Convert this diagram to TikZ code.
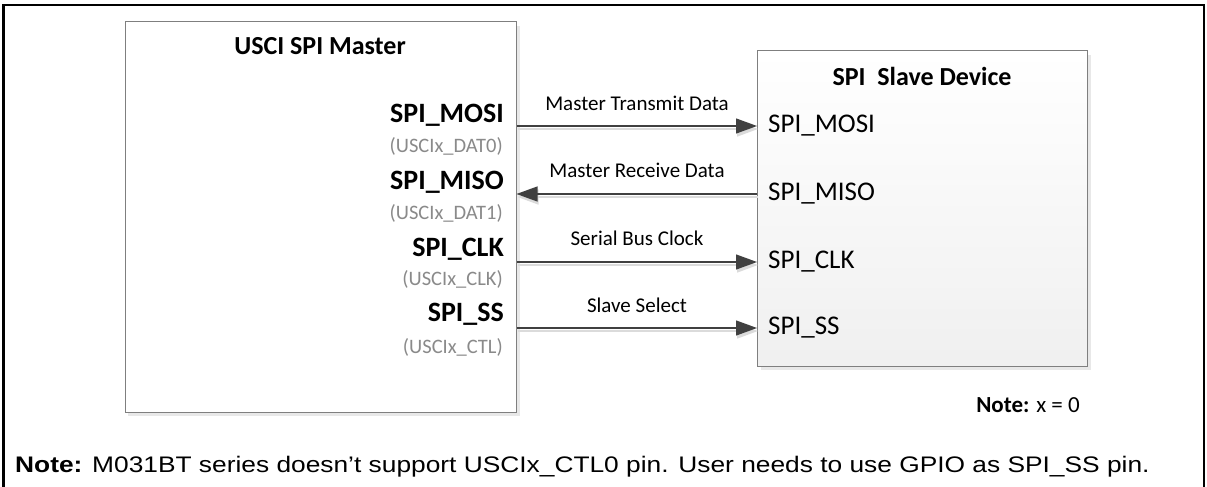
\documentclass[tikz,border=0pt]{standalone}
\usepackage{fontspec}
\usepackage{graphicx}
\setmainfont{Carlito}
\newfontfamily\arialfont{Liberation Sans}
\usetikzlibrary{arrows.meta}
\definecolor{pingray}{HTML}{8A8A8A}
\definecolor{arrowgray}{HTML}{404040}
\definecolor{boxborder}{HTML}{7F7F7F}
\tikzset{
  frame/.style={line width=2.5pt, line cap=rect},
  masterbox/.style={draw=boxborder, line width=1pt, fill=white, rectangle, inner sep=0pt},
  slavebox/.style={draw=boxborder, line width=1pt, rectangle, inner sep=0pt,
    top color=white, bottom color=black!6},
  boxshadow/.style={fill=black!9, draw=none},
  title/.style={font=\fontsize{26}{30}\selectfont\bfseries, anchor=base, inner sep=0pt},
  mpin/.style={font=\fontsize{28}{30}\selectfont\bfseries, anchor=base east, inner sep=0pt},
  mpinsub/.style={font=\fontsize{20.5}{24}\selectfont, text=pingray, anchor=base east, inner sep=0pt},
  spin/.style={font=\fontsize{27}{30}\selectfont, anchor=west, inner sep=0pt},
  siglabel/.style={font=\fontsize{21}{24}\selectfont, anchor=base, inner sep=0pt},
  notetext/.style={font=\fontsize{23}{26}\selectfont, anchor=base east, inner sep=0pt},
  footnote/.style={font=\arialfont\fontsize{22.5}{26}\selectfont, anchor=base west, inner sep=0pt},
  sig/.style={draw=arrowgray, line width=1.2pt,
    -{Triangle[length=21pt,width=15pt]},
    preaction={draw=black!14, line width=1.6pt, transform canvas={xshift=1pt,yshift=-3pt}}},
}
\begin{document}
\begin{tikzpicture}[x=1pt,y=-1pt]
\useasboundingbox (0,0) rectangle (1207,487);
% outer frame (open at bottom)
\draw[frame] (3.5,490) -- (3.5,5) -- (1204,5) -- (1204,490);

% boxes with shadows
\fill[boxshadow] (128,26) rectangle (520,416);
\node[masterbox, minimum width=391pt, minimum height=390pt] (master) at (320.5,217) {};
\fill[boxshadow] (761,55) rectangle (1091,370);
\node[slavebox, minimum width=330pt, minimum height=315pt] (slave) at (922.5,208.5) {};

% titles
\node[title] (mtitle) at (320,55) {USCI SPI Master};
\node[title] (stitle) at (922,85) {SPI\ \ Slave Device};

% master pins
\node[mpin] (mmosi) at (504,122) {SPI\_MOSI};
\node[mpinsub] (mdat0) at (503,152) {(USCIx\_DAT0)};
\node[mpin] (mmiso) at (504,189) {SPI\_MISO};
\node[mpinsub] (mdat1) at (503,219) {(USCIx\_DAT1)};
\node[mpin] (mclk) at (504,256) {SPI\_CLK};
\node[mpinsub] (mclkx) at (503,285) {(USCIx\_CLK)};
\node[mpin] (mss) at (504,321) {SPI\_SS};
\node[mpinsub] (mctl) at (503,353) {(USCIx\_CTL)};

% slave pins
\node[spin] (smosi) at (768,126) {SPI\_MOSI};
\node[spin] (smiso) at (768,194) {SPI\_MISO};
\node[spin] (sclk) at (768,262) {SPI\_CLK};
\node[spin] (sss) at (768,328) {SPI\_SS};

% signals
\draw[sig] (master.east |- smosi.west) -- (slave.west |- smosi.west);
\draw[sig] (slave.west |- smiso.west) -- (master.east |- smiso.west);
\draw[sig] (master.east |- sclk.west) -- (slave.west |- sclk.west);
\draw[sig] (master.east |- sss.west) -- (slave.west |- sss.west);

\node[siglabel] (lmosi) at (637,110) {Master Transmit Data};
\node[siglabel] (lmiso) at (637,177) {Master Receive Data};
\node[siglabel] (lclk) at (637,245) {Serial Bus Clock};
\node[siglabel] (lss) at (637,312) {Slave Select};

% notes
\node[notetext] (note1) at (1080,412) {\textbf{Note:} x = 0};
\node[footnote] (note2) at (15,472)
  {\scalebox{1.17}[1]{\textbf{Note:} M031BT series doesn’t support USCIx\_CTL0 pin. User needs to use GPIO as SPI\_SS pin.}};
\end{tikzpicture}
\end{document}
